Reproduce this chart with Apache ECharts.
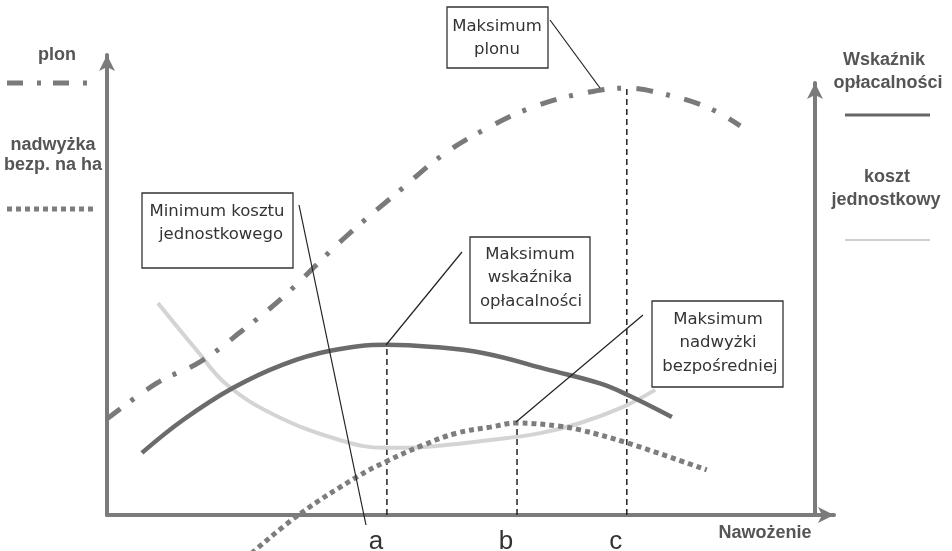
<!DOCTYPE html>
<html><head><meta charset="utf-8">
<script src="https://cdn.jsdelivr.net/npm/echarts@6/dist/echarts.min.js"></script>
<style>html,body{margin:0;padding:0;background:#fff}#c{width:952px;height:551px}</style>
</head><body><div id="c"></div>
<script>
// Nawożenie (x, 0..100) — schematic values
const yieldX   = [0, 6.9, 12.8, 18.7, 24.5, 32.5, 40.7, 46.2, 52.3, 58.6, 65.5, 71.5, 76.1, 82.5, 87.1];
const yieldY   = [20.9, 28.7, 33.3, 40.2, 47.8, 60.0, 71.1, 78.3, 84.1, 88.7, 91.7, 92.8, 91.7, 88.7, 84.6];
const profitX  = [4.8, 10.5, 17.3, 24.2, 30.7, 38.5, 44.4, 51.7, 60.9, 67.8, 71.5, 77.7];
const profitY  = [13.5, 20.7, 27.6, 32.7, 35.7, 37.0, 36.6, 35.2, 31.5, 28.6, 26.2, 21.3];
const costX    = [7.0, 12.4, 16.5, 23.1, 32.0, 38.2, 43.5, 52.7, 59.6, 65.1, 71.0, 75.4];
const costY    = [46.1, 35.7, 28.3, 21.7, 16.3, 14.6, 14.8, 16.3, 17.8, 20.0, 23.5, 27.2];
const surplusX = [19.9, 26.5, 34.4, 38.5, 43.5, 48.1, 52.7, 56.4, 62.3, 65.1, 71.5, 82.5];
const surplusY = [-8.3, 0.2, 8.3, 11.7, 15.2, 17.8, 19.1, 20.0, 19.3, 18.5, 15.7, 9.8];
const markerNames = ['a', 'b', 'c'];
const markerX   = [38.5, 56.4, 71.5];
const markerTop = [37.0, 20.0, 92.8];

const pairs = (xs, ys) => xs.map((x, i) => [x, ys[i]]);
const chart = echarts.init(document.getElementById('c'), null, {renderer: 'canvas'});

const axisCol = '#7b7b7b';
const arrowLine = {show: true, symbol: ['none', 'arrow'], symbolSize: [12, 16], lineStyle: {color: axisCol, width: 4}};

const markerSeries = markerX.map((x, i) => ({
  type: 'line', xAxisIndex: 0, yAxisIndex: 0, silent: true, showSymbol: false, z: 1,
  data: [[x, 0], [x, markerTop[i]]],
  lineStyle: {color: '#222', width: 1.5, type: [6, 4]}
}));

const boxFont = '16.5px "DejaVu Sans"';
const legFont = 'bold 18px "Liberation Sans"';
function txt(text, x, y, font, fill) {
  return {type: 'text', z: 10, style: {text: text, x: x, y: y, font: font, fill: fill, align: 'center', verticalAlign: 'middle'}};
}
function box(x, y, w, h, lines) {
  const els = [{type: 'rect', z: 9, shape: {x: x, y: y, width: w, height: h}, style: {fill: '#fff', stroke: '#333', lineWidth: 1.3}}];
  lines.forEach(l => els.push(txt(l[0], l[1], l[2], boxFont, '#333')));
  return els;
}
function seg(x1, y1, x2, y2, style) {
  return {type: 'line', z: 8, shape: {x1: x1, y1: y1, x2: x2, y2: y2}, style: style};
}
const lead = {stroke: '#222', lineWidth: 1.2};

const graphics = [].concat(
  // left legend
  txt('plon', 57, 55, legFont, '#555'),
  seg(7, 83, 88, 83, {stroke: '#7a7a7a', lineWidth: 5, lineDash: [16, 14, 4, 12]}),
  txt('nadwyżka', 53, 145, legFont, '#555'),
  txt('bezp. na ha', 53, 165, legFont, '#555'),
  seg(7, 209, 93, 209, {stroke: '#7d7d7d', lineWidth: 5, lineDash: [5, 4]}),
  // right legend
  txt('Wskaźnik', 884, 60, legFont, '#555'),
  txt('opłacalności', 888, 83, legFont, '#555'),
  seg(845, 115, 930, 115, {stroke: '#666', lineWidth: 3}),
  txt('koszt', 887, 177, legFont, '#555'),
  txt('jednostkowy', 886, 200, legFont, '#555'),
  seg(845, 240, 930, 240, {stroke: '#cfcfcf', lineWidth: 2}),
  txt('Nawożenie', 765, 533, legFont, '#555'),
  // annotation boxes
  box(447, 7, 101, 61, [['Maksimum', 497, 27], ['plonu', 497, 50]]),
  box(142, 193, 151, 75, [['Minimum kosztu', 217, 212], ['jednostkowego', 221, 235]]),
  box(470, 237, 120, 86, [['Maksimum', 530, 255], ['wskaźnika', 530, 278], ['opłacalności', 531, 302]]),
  box(652, 301, 131, 86, [['Maksimum', 718, 320], ['nadwyżki', 718, 343], ['bezpośredniej', 720, 367]]),
  // leader lines
  seg(550, 20, 600, 88, lead),
  seg(299, 205, 366, 525, lead),
  seg(462, 252, 386, 345, lead),
  seg(643, 315, 516, 422, lead)
);

const curve = {type: 'line', smooth: 0.4, showSymbol: false, z: 3};

chart.setOption({
  animation: false,
  backgroundColor: '#fff',
  grid: [
    {left: 107, right: 118, top: 55, bottom: 36, outerBoundsMode: 'none', containLabel: false},
    {left: 815, width: 1, top: 83, bottom: 36, outerBoundsMode: 'none', containLabel: false}
  ],
  xAxis: [
    {type: 'value', gridIndex: 0, min: 0, max: 100, axisLine: arrowLine,
     axisTick: {show: false}, splitLine: {show: false},
     axisLabel: {customValues: markerX, formatter: v => markerNames[markerX.indexOf(v)] || '',
                 fontSize: 26, color: '#333', fontFamily: 'Liberation Sans', margin: 14, padding: [0, 22, 0, 0]}},
    {type: 'value', gridIndex: 1, min: 0, max: 1, show: false}
  ],
  yAxis: [
    {type: 'value', gridIndex: 0, min: 0, max: 100, axisLine: arrowLine,
     axisTick: {show: false}, axisLabel: {show: false}, splitLine: {show: false}},
    {type: 'value', gridIndex: 1, min: 0, max: 1, position: 'left', axisLine: arrowLine,
     axisTick: {show: false}, axisLabel: {show: false}, splitLine: {show: false}}
  ],
  series: [
    Object.assign({}, curve, {name: 'koszt jednostkowy', z: 2,
     data: pairs(costX, costY), lineStyle: {color: '#d4d4d4', width: 4}}),
    Object.assign({}, curve, {name: 'plon',
     data: pairs(yieldX, yieldY), lineStyle: {color: '#7a7a7a', width: 5, type: [17, 13, 4, 15], cap: 'butt'}}),
    Object.assign({}, curve, {name: 'Wskaźnik opłacalności',
     data: pairs(profitX, profitY), lineStyle: {color: '#6b6b6b', width: 4.5}}),
    Object.assign({}, curve, {name: 'nadwyżka bezp. na ha', clip: false,
     data: pairs(surplusX, surplusY), lineStyle: {color: '#7d7d7d', width: 5, type: [5, 4], cap: 'butt'}})
  ].concat(markerSeries),
  graphic: graphics
});
</script>
</body></html>
